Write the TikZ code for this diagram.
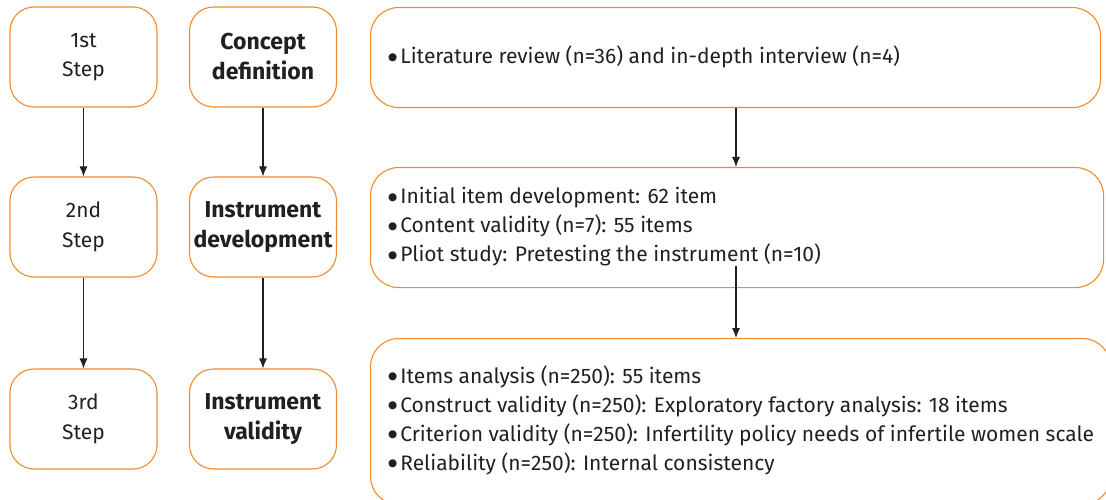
\documentclass[tikz,border=0pt]{standalone}
\usepackage{fontspec}
\setmainfont{Fira Sans}
\newfontfamily\djv{DejaVu Sans}
\newcommand\bul{\raisebox{3.6pt}{\djv\fontsize{10.5}{10.5}\selectfont ●}\hspace{3pt}}
\usetikzlibrary{arrows.meta}
\definecolor{orng}{HTML}{F08A2C}
\definecolor{ink}{HTML}{231F20}
\tikzset{
  x=1pt,y=-1pt,
  stepbox/.style={draw=orng,line width=1.1pt,rounded corners=24pt,minimum width=147pt,minimum height=100pt,align=center,text=ink,font=\fontsize{21}{29.5}\selectfont,inner sep=0pt},
  phasebox/.style={stepbox,font=\fontsize{23}{30}\selectfont\bfseries},
  infobox/.style={draw=orng,line width=1.1pt,rounded corners=28pt,anchor=north west,inner sep=0pt},
  infotext/.style={anchor=west,align=left,text=ink,font=\fontsize{21}{29}\selectfont,inner sep=0pt},
  arr/.style={draw=ink,line width=1.1pt,-{Latex[length=10pt,width=8pt]}}
}
\begin{document}
\begin{tikzpicture}
\useasboundingbox (0,0) rectangle (1106,500);
\clip (0,0) rectangle (1106,500);
% left column
\node[stepbox] (s1) at (83.5,57) {1st\\Step};
\node[stepbox] (s2) at (83.5,227) {2nd\\Step};
\node[stepbox] (s3) at (83.5,419) {3rd\\Step};
% middle column
\node[phasebox] (p1) at (263,57) {Concept\\definition};
\node[phasebox] (p2) at (263,227) {Instrument\\development};
\node[phasebox] (p3) at (263,419) {Instrument\\validity};
% right column boxes
\node[infobox,minimum width=730pt,minimum height=100pt] (b1) at (370,7) {};
\node[infobox,minimum width=733pt,minimum height=120pt] (b2) at (370,167) {};
\node[infobox,minimum width=740pt,minimum height=166pt] (b3) at (370,338) {};
\node[infotext] (t1) at (388,57) {\bul Literature review (n=36) and in-depth interview (n=4)};
\node[infotext] (t2) at (388,227) {\bul Initial item development: 62 item\\\bul Content validity (n=7): 55 items\\\bul Pliot study: Pretesting the instrument (n=10)};
\node[infotext] (t3) at (388,420) {\bul Items analysis (n=250): 55 items\\\bul Construct validity (n=250): Exploratory factory analysis: 18 items\\\bul Criterion validity (n=250): Infertility policy needs of infertile women scale\\\bul Reliability (n=250): Internal consistency};
\coordinate (c2) at (736,266);
% arrows
\draw[arr] (s1) -- (s2);
\draw[arr] (s2) -- (s3);
\draw[arr] (p1) -- (p2);
\draw[arr] (p2) -- (p3);
\draw[arr] (b1.south -| c2) -- (b2.north -| c2);
\draw[arr] (c2) -- (b3.north -| c2);
\end{tikzpicture}
\end{document}
